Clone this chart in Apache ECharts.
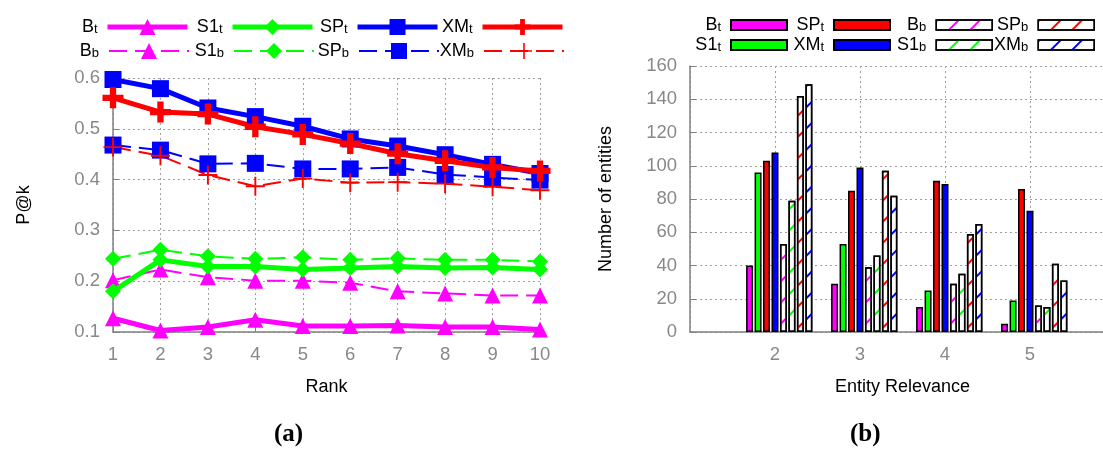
<!DOCTYPE html>
<html>
<head>
<meta charset="utf-8">
<script src="https://cdn.jsdelivr.net/npm/echarts@6/dist/echarts.min.js"></script>
<style>
html,body{margin:0;padding:0;background:#fff;}
#chart{width:1103px;height:453px;}
</style>
</head>
<body>
<div id="chart"></div>
<script>
// ---------- data: panel (a) P@k by rank ----------
const ranks = ['1','2','3','4','5','6','7','8','9','10'];
const yTicksA = [0.1, 0.2, 0.3, 0.4, 0.5, 0.6];
const B_t  = [0.127, 0.103, 0.110, 0.124, 0.112, 0.112, 0.113, 0.110, 0.110, 0.105];
const S1_t = [0.180, 0.242, 0.229, 0.229, 0.223, 0.226, 0.229, 0.226, 0.227, 0.223];
const SP_t = [0.597, 0.579, 0.541, 0.524, 0.505, 0.480, 0.466, 0.449, 0.430, 0.412];
const XM_t = [0.561, 0.533, 0.529, 0.504, 0.489, 0.471, 0.451, 0.437, 0.424, 0.417];
const B_b  = [0.202, 0.223, 0.208, 0.201, 0.201, 0.197, 0.180, 0.176, 0.172, 0.172];
const S1_b = [0.244, 0.262, 0.249, 0.244, 0.247, 0.242, 0.245, 0.242, 0.242, 0.239];
const SP_b = [0.468, 0.458, 0.431, 0.432, 0.421, 0.421, 0.424, 0.410, 0.404, 0.399];
const XM_b = [0.464, 0.447, 0.409, 0.387, 0.402, 0.394, 0.395, 0.392, 0.386, 0.379];

// ---------- data: panel (b) number of entities by relevance ----------
const relevance = ['1','2','3','4','5','6'];     // axis categories (1 and 6 are empty edges)
const relShown  = ['2','3','4','5'];
const nB_t  = [40, 29, 15, 5];
const nS1_t = [96, 53, 25, 19];
const nSP_t = [103, 85, 91, 86];
const nXM_t = [108, 99, 89, 73];
const nB_b  = [53, 39, 29, 16];
const nS1_b = [79, 46, 35, 15];
const nSP_b = [142, 97, 59, 41];
const nXM_b = [149, 82, 65, 31];

const FONT = '"Liberation Sans", Arial, Helvetica, sans-serif';
const MAG = '#ff00ff', GRN = '#00ff00', BLU = '#0000ff', RED = '#ff0000';

function fullRow(vals){ // map shown categories to full axis
  return relevance.map(c => { const i = relShown.indexOf(c); return i < 0 ? '-' : vals[i]; });
}

const PLUS_THICK = 'path://M7,0H13V7H20V13H13V20H7V13H0V7H7Z';
const PLUS_THIN  = 'path://M9,0H11V9H20V11H11V20H9V11H0V9H9Z';

const labelMap = {};
const thickMap = {};
const hatchMap = {};
function reg(id, base, sub){ labelMap[id] = [base, sub]; return id; }

function lineSeries(id, base, sub, data, color, thick, symbol, size){
  reg(id, base, sub);
  thickMap[id] = thick;
  return {
    type: 'line', name: id, xAxisIndex: 0, yAxisIndex: 0, data: data,
    symbol: symbol, symbolSize: size, showSymbol: true,
    itemStyle: { color: color },
    lineStyle: { color: color, width: thick ? 5 : 2, type: thick ? 'solid' : [18, 8] },
    emphasis: { disabled: true }, animation: false, z: thick ? 3 : 2
  };
}

function hatch(color){
  return { symbol: 'rect', symbolSize: 1, color: color,
    dashArrayX: [1, 0], dashArrayY: [1.2, 12.5], rotation: -Math.PI / 4 };
}

function barSeries(id, base, sub, data, color, hatched){
  reg(id, base, sub);
  const s = {
    type: 'bar', name: id, xAxisIndex: 1, yAxisIndex: 1, data: fullRow(data),
    barWidth: 7, barGap: '21%',
    itemStyle: { color: hatched ? '#ffffff' : color, borderColor: '#000', borderWidth: 1.5 },
    emphasis: { disabled: true }, animation: false
  };
  if (hatched) { s.itemStyle.decal = hatch(color); hatchMap[id] = color; }
  return s;
}

const series = [
  lineSeries('aB_b', 'B', 'b', B_b, MAG, false, 'triangle', 16),
  lineSeries('aS1_b', 'S1', 'b', S1_b, GRN, false, 'diamond', 16),
  lineSeries('aSP_b', 'SP', 'b', SP_b, BLU, false, 'rect', 17),
  lineSeries('aXM_b', 'XM', 'b', XM_b, RED, false, PLUS_THIN, 19),
  lineSeries('aB_t', 'B', 't', B_t, MAG, true, 'triangle', 16),
  lineSeries('aS1_t', 'S1', 't', S1_t, GRN, true, 'diamond', 16),
  lineSeries('aSP_t', 'SP', 't', SP_t, BLU, true, 'rect', 17),
  lineSeries('aXM_t', 'XM', 't', XM_t, RED, true, PLUS_THICK, 21),
  // empty leading slot: the histogram clusters sit slightly right of the tick
  { type: 'bar', name: 'gap', xAxisIndex: 1, yAxisIndex: 1, data: fullRow(['-','-','-','-']),
    barWidth: 7, barGap: '21%', silent: true },
  barSeries('bB_t', 'B', 't', nB_t, MAG, false),
  barSeries('bS1_t', 'S1', 't', nS1_t, GRN, false),
  barSeries('bSP_t', 'SP', 't', nSP_t, RED, false),
  barSeries('bXM_t', 'XM', 't', nXM_t, BLU, false),
  barSeries('bB_b', 'B', 'b', nB_b, MAG, true),
  barSeries('bS1_b', 'S1', 'b', nS1_b, GRN, true),
  barSeries('bSP_b', 'SP', 'b', nSP_b, RED, true),
  barSeries('bXM_b', 'XM', 'b', nXM_b, BLU, true)
];

const rich = {
  m: { fontSize: 18, fontFamily: FONT, color: '#000', lineHeight: 18, verticalAlign: 'top' },
  s: { fontSize: 13, fontFamily: FONT, color: '#000', lineHeight: 13, padding: [15, 0, 0, 0], verticalAlign: 'bottom' }
};

function oneLegend(id, right, top, iw, ih, isBar){
  const l = {
    data: [id], right: right, top: top, orient: 'horizontal', align: 'right',
    itemWidth: iw, itemHeight: ih, padding: 0, selectedMode: false,
    formatter: n => '{m|' + labelMap[n][0] + '}{s|' + labelMap[n][1] + '}',
    textStyle: { padding: [0, 5, 0, 0], rich: rich }
  };
  if (isBar) {
    l.icon = 'rect';
    if (hatchMap[id]) l.itemStyle = { color: '#ffffff', borderColor: '#000', borderWidth: 1.5, decal: hatch(hatchMap[id]) };
  } else { l.lineStyle = { width: thickMap[id] ? 5 : 2 }; }
  return l;
}

const legends = [
  // panel (a)
  oneLegend('aB_t', 913, 8, 80, 20), oneLegend('aS1_t', 788, 8, 80, 20),
  oneLegend('aSP_t', 663, 8, 80, 20), oneLegend('aXM_t', 538, 8, 80, 20),
  oneLegend('aB_b', 913, 32, 80, 20), oneLegend('aS1_b', 788, 32, 80, 20),
  oneLegend('aSP_b', 663, 32, 80, 20), oneLegend('aXM_b', 538, 32, 80, 20),
  // panel (b)
  oneLegend('bB_t', 315, 6, 56, 10, true), oneLegend('bSP_t', 212, 6, 56, 10, true),
  oneLegend('bB_b', 110, 6, 56, 10, true), oneLegend('bSP_b', 8, 6, 56, 10, true),
  oneLegend('bS1_t', 315, 26, 56, 10, true), oneLegend('bXM_t', 212, 26, 56, 10, true),
  oneLegend('bS1_b', 110, 26, 56, 10, true), oneLegend('bXM_b', 8, 26, 56, 10, true)
];

const gridLine = { show: true, lineStyle: { color: '#a0a0a0', type: [2, 3], width: 1 } };
const axLine = { show: true, lineStyle: { color: '#808080', width: 1.5 } };
const tickLab = { color: '#888', fontSize: 18.5, fontFamily: FONT };
const nameStyle = { color: '#000', fontSize: 18, fontFamily: FONT };

const option = {
  backgroundColor: '#fff',
  animation: false,
  legend: legends,
  grid: [
    { left: 113, width: 427, top: 78, bottom: 121, outerBoundsMode: 'none', containLabel: false },
    { left: 690, width: 425, top: 66, bottom: 121, outerBoundsMode: 'none', containLabel: false }
  ],
  xAxis: [
    { type: 'category', gridIndex: 0, data: ranks, boundaryGap: false,
      axisLine: axLine, axisTick: { show: true, inside: true, length: 5, lineStyle: { color: '#808080' } },
      axisLabel: Object.assign({ margin: 13 }, tickLab), splitLine: gridLine,
      name: 'Rank', nameLocation: 'middle', nameGap: 46, nameTextStyle: nameStyle },
    { type: 'category', gridIndex: 1, data: relevance, boundaryGap: false,
      axisLine: axLine, axisTick: { show: false },
      axisLabel: Object.assign({ margin: 13, formatter: v => relShown.indexOf(v) >= 0 ? v : '' }, tickLab),
      splitLine: gridLine,
      name: 'Entity Relevance', nameLocation: 'middle', nameGap: 46, nameTextStyle: nameStyle }
  ],
  yAxis: [
    { type: 'value', gridIndex: 0, min: yTicksA[0], max: yTicksA[yTicksA.length - 1], interval: 0.1,
      axisLine: axLine, axisTick: { show: true, inside: true, length: 6, lineStyle: { color: '#808080' } },
      axisLabel: Object.assign({ margin: 13, formatter: v => v.toFixed(1) }, tickLab), splitLine: gridLine,
      name: 'P@k', nameLocation: 'middle', nameGap: 80, nameTextStyle: nameStyle },
    { type: 'value', gridIndex: 1, min: 0, max: 160, interval: 20,
      axisLine: axLine, axisTick: { show: true, inside: true, length: 6, lineStyle: { color: '#808080' } },
      axisLabel: Object.assign({ margin: 13 }, tickLab), splitLine: gridLine,
      name: 'Number of entities', nameLocation: 'middle', nameGap: 75, nameTextStyle: nameStyle }
  ],
  graphic: [
    { type: 'text', left: 274, top: 422, style: { text: '(a)', font: 'bold 25px "Liberation Serif", "DejaVu Serif", serif', fill: '#000' } },
    { type: 'text', left: 850, top: 422, style: { text: '(b)', font: 'bold 25px "Liberation Serif", "DejaVu Serif", serif', fill: '#000' } }
  ],
  series: series
};

const chart = echarts.init(document.getElementById('chart'), null, { renderer: 'canvas' });
chart.setOption(option);
</script>
</body>
</html>
